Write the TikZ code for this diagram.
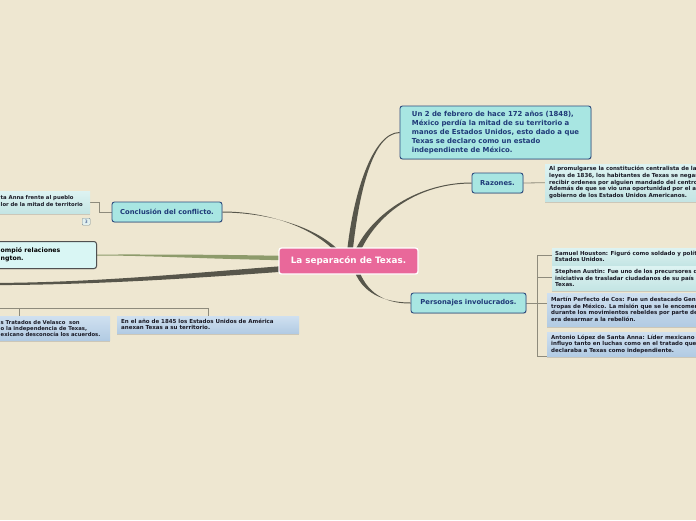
\documentclass[tikz,border=0pt]{standalone}
\usepackage{fontspec}
\setmainfont{DejaVu Sans}
\usetikzlibrary{calc,backgrounds,shadows}
\definecolor{bg}{HTML}{EEE7D1}
\definecolor{pinkc}{HTML}{E9689A}
\definecolor{topicfill}{HTML}{A8E6E2}
\definecolor{topicdraw}{HTML}{2D4B7E}
\definecolor{topictext}{HTML}{1F3A78}
\definecolor{relfill}{HTML}{D9F6F4}
\definecolor{reldraw}{HTML}{505050}
\definecolor{cyantop}{HTML}{DDF3F2}
\definecolor{cyanbot}{HTML}{C4E5E4}
\definecolor{bluetop}{HTML}{CFE0F0}
\definecolor{bluebot}{HTML}{B2CBE3}
\definecolor{leaftext}{HTML}{1A1A26}
\definecolor{darkconn}{HTML}{57564B}
\definecolor{olive}{HTML}{8D9B6B}
\definecolor{thinconn}{HTML}{8E8B7C}
\definecolor{badgefill}{HTML}{E2F0EE}
\definecolor{badgedraw}{HTML}{7F8F95}
\newcommand\mytaper[7]{%
  \fill[#7] ($(#1)+(#5)$) .. controls ($(#2)+(#5)$) and ($(#3)+(#6)$) .. ($(#4)+(#6)$)
   -- ($(#4)-(#6)$) .. controls ($(#3)-(#6)$) and ($(#2)-(#5)$) .. ($(#1)-(#5)$) -- cycle;}
\begin{document}
\begin{tikzpicture}[x=1pt,y=-1pt,
  central/.style={draw=white, line width=1.3pt, fill=pinkc, rounded corners=2.5pt, text=white,
    font=\bfseries\fontsize{8.8}{10}\selectfont, minimum width=139, minimum height=26, inner sep=0},
  topic/.style={draw=topicdraw, line width=0.9pt, fill=topicfill, rounded corners=2.5pt, text=topictext,
    font=\bfseries\fontsize{6.8}{8}\selectfont, inner sep=0,
    drop shadow={shadow xshift=0.6pt, shadow yshift=-0.8pt, opacity=0.3}},
  relbox/.style={draw=reldraw, line width=1pt, fill=relfill, rounded corners=2.5pt, inner sep=0, anchor=north west,
    drop shadow={shadow xshift=0.6pt, shadow yshift=-0.8pt, opacity=0.3}},
  leafbox/.style={inner sep=0, anchor=north west, drop shadow={shadow xshift=0pt, shadow yshift=-1.3pt, opacity=0.3}},
  cyanbox/.style={leafbox, top color=cyantop, bottom color=cyanbot},
  bluebox/.style={leafbox, top color=bluetop, bottom color=bluebot},
  leaftxt/.style={inner sep=0, anchor=west, align=left, text=leaftext, font=\bfseries\fontsize{5.5}{6.6}\selectfont},
  thinline/.style={draw=thinconn, line width=0.8pt},
]
\useasboundingbox (0,0) rectangle (696,520);

% main nodes
\node[central] (c) at (348.5,261) {La separacón de Texas.};
\node[topic, minimum width=191, minimum height=53, align=left, font=\bfseries\fontsize{6.9}{8.9}\selectfont] (q) at (495.5,132.5)
  {Un 2 de febrero de hace 172 años (1848),\\México perdía la mitad de su territorio a\\manos de Estados Unidos, esto dado a que\\Texas se declaro como un estado\\independiente de México.};
\node[topic, minimum width=51, minimum height=20] (raz) at (497.5,183) {Razones.};
\node[topic, minimum width=115, minimum height=20] (pers) at (468.5,303) {Personajes involucrados.};
\node[topic, minimum width=110, minimum height=20] (conc) at (167,212) {Conclusión del conflicto.};

% left partial node
\node[relbox, minimum width=104, minimum height=27] (rel) at (-8,241) {};
\node[inner sep=0, anchor=west, align=left, font=\bfseries\fontsize{6.2}{7.6}\selectfont] (relt) at (0.5,254.5) {ompió relaciones\\ngton.};

% conclusion leaf
\node[cyanbox, minimum width=100, minimum height=22] (cl) at (-10,191) {};
\node[leaftxt, font=\bfseries\fontsize{5.3}{7}\selectfont] (clt) at (0.5,201) {ta Anna frente al pueblo\\lor de la mitad de territorio};
\node[draw=badgedraw, fill=badgefill, rounded corners=1pt, inner sep=0, minimum width=8, minimum height=7,
  font=\fontsize{4.5}{5}\selectfont, text=topictext] (badge) at (86.2,221.7) {3};

% razones leaf
\node[cyanbox, minimum width=200, minimum height=37] (rl) at (545,164) {};
\node[leaftxt] (rlt) at (549,182.5) {Al promulgarse la constitución centralista de las\\leyes de 1836, los habitantes de Texas se negaron\\recibir ordenes por alguien mandado del centro.\\Además de que se vio una oportunidad por el apoyo\\gobierno de los Estados Unidos Americanos.};

% personajes leaves
\node[cyanbox, minimum width=200, minimum height=17] (houston) at (552,248) {};
\node[leaftxt] (houstont) at (555,256.5) {Samuel Houston: Figuró como soldado y político\\Estados Unidos.};
\node[cyanbox, minimum width=200, minimum height=24] (austin) at (552,266) {};
\node[leaftxt] (austint) at (555,278) {Stephen Austin: Fue uno de los precursores de\\iniciativa de trasladar ciudadanos de su país a\\Texas.};
\node[bluebox, minimum width=200, minimum height=33] (cos) at (547,293) {};
\node[leaftxt] (cost) at (551,309.5) {Martín Perfecto de Cos: Fue un destacado General\\tropas de México. La misión que se le encomendó\\durante los movimientos rebeldes por parte de\\era desarmar a la rebelión.};
\node[bluebox, minimum width=200, minimum height=24] (santa) at (547,332) {};
\node[leaftxt] (santat) at (551,344) {Antonio López de Santa Anna: Líder mexicano que\\influyo tanto en luchas como en el tratado que\\declaraba a Texas como independiente.};

% bottom-left leaves
\node[bluebox, minimum width=120, minimum height=24] (vel) at (-10,316) {};
\node[leaftxt, font=\bfseries\fontsize{5.3}{6.4}\selectfont] (velt) at (0.5,328.5) {s Tratados de Velasco\ \ son\\o la independencia de Texas,\\exicano desconocía los acuerdos.};
\node[bluebox, minimum width=182, minimum height=17] (anex) at (117,316) {};
\node[leaftxt] (anext) at (121,324.5) {En el año de 1845 los Estados Unidos de América\\anexan Texas a su territorio.};

\begin{pgfonlayer}{background}
\fill[bg] (0,0) rectangle (696,520);
% thick connectors
\coordinate (a1) at ($(c.north)+(1.5,3)$);
\coordinate (a2) at ($(c.north)+(9.5,3)$);
\coordinate (a3) at ($(c.south)+(8.5,-3)$);
\coordinate (a4) at ($(c.north)+(-12,3)$);
\coordinate (a5) at ($(c.west)+(3,-3)$);
\coordinate (a6) at ($(c.west)+(3,8)$);
\coordinate (le) at (-2,284);
\mytaper{a1}{356,195}{372,133}{q.west}{2.8,0}{0,0.5}{darkconn}
\mytaper{a2}{376,212}{420,183}{raz.west}{2.8,0}{0,0.5}{darkconn}
\mytaper{a3}{367,297}{390,303}{pers.west}{2.4,0}{0,0.5}{darkconn}
\mytaper{a4}{310,224}{262,212}{conc.east}{2.4,0}{0,0.5}{darkconn}
\mytaper{a5}{200,256.5}{150,255}{rel.east}{0,2.2}{0,0.5}{olive}
\mytaper{a6}{200,275}{100,283.5}{le}{0,2.8}{0,1.1}{darkconn}
% thin connectors
\draw[thinline] (raz.east) -- (rl.west);
\draw[thinline] (conc.west) -- ++(-12,0) |- (cl.east);
\coordinate (pb) at ($(pers.east)+(11,0)$);
\coordinate (h1) at ($(houston.north west)+(0,7)$);
\coordinate (s1) at ($(austin.north west)+(0,11)$);
\coordinate (m1) at ($(cos.north west)+(0,10)$);
\draw[thinline] (pers.east) -- (pb);
\draw[thinline] (h1) -- (pb |- h1) -- (pb |- santa.south west) -- (santa.south west);
\draw[thinline] (s1) -- (pb |- s1);
\draw[thinline] (m1) -- (pb |- m1);
\coordinate (bl) at (-2,308);
\coordinate (vt) at ($(vel.north west)+(29,0)$);
\draw[thinline] (bl) -- (anex.north |- bl) -- (anex.north);
\draw[thinline] (vt |- bl) -- (vt);
\end{pgfonlayer}
\end{tikzpicture}
\end{document}
